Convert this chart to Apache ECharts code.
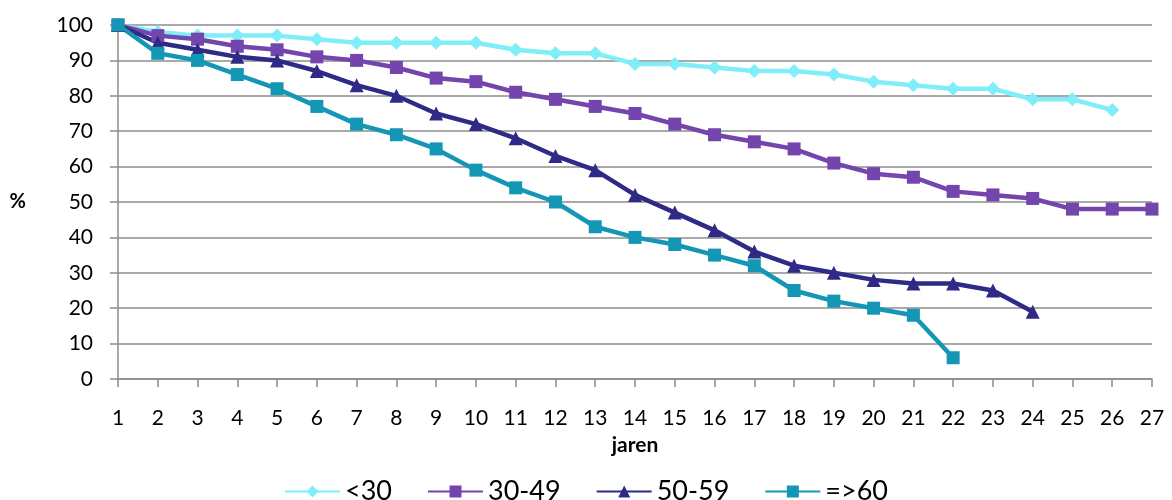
<!DOCTYPE html>
<html>
<head>
<meta charset="utf-8">
<script src="https://cdn.jsdelivr.net/npm/echarts@6/dist/echarts.min.js"></script>
<style>
  html, body { margin: 0; padding: 0; background: #fff; }
  #chart { width: 1172px; height: 500px; }
</style>
</head>
<body>
<div id="chart"></div>
<script>
// Years since start (x axis categories)
const years = ['1','2','3','4','5','6','7','8','9','10','11','12','13','14','15','16','17','18','19','20','21','22','23','24','25','26','27'];

// Percentage remaining per age group
const under30 = [100, 98, 97, 97, 97, 96, 95, 95, 95, 95, 93, 92, 92, 89, 89, 88, 87, 87, 86, 84, 83, 82, 82, 79, 79, 76];
const age30to49 = [100, 97, 96, 94, 93, 91, 90, 88, 85, 84, 81, 79, 77, 75, 72, 69, 67, 65, 61, 58, 57, 53, 52, 51, 48, 48, 48];
const age50to59 = [100, 95, 93, 91, 90, 87, 83, 80, 75, 72, 68, 63, 59, 52, 47, 42, 36, 32, 30, 28, 27, 27, 25, 19];
const age60plus = [100, 92, 90, 86, 82, 77, 72, 69, 65, 59, 54, 50, 43, 40, 38, 35, 32, 25, 22, 20, 18, 6];

const seriesNames = ['<30', '30-49', '50-59', '=>60'];

const FONT = 'Lato, "Open Sans", sans-serif';
const GRID = '#8c8c8c';

function lineSeries(name, data, color, symbol, size) {
  return {
    name: name,
    type: 'line',
    data: data,
    symbol: symbol,
    symbolSize: size,
    showSymbol: true,
    lineStyle: { width: 4.5, color: color },
    itemStyle: { color: color },
    emphasis: { disabled: true },
    animation: false
  };
}

const chart = echarts.init(document.getElementById('chart'), null, { renderer: 'canvas' });
chart.setOption({
  backgroundColor: '#ffffff',
  animation: false,
  textStyle: { fontFamily: FONT },
  grid: { left: 118, right: 20, top: 25, bottom: 121, containLabel: false },
  legend: {
    data: seriesNames,
    top: 473,
    left: 'center',
    itemWidth: 55,
    itemHeight: 15,
    itemGap: 35,
    textStyle: { fontSize: 27, color: '#000', fontFamily: FONT }
  },
  xAxis: {
    type: 'category',
    data: years,
    boundaryGap: false,
    name: 'jaren',
    nameLocation: 'middle',
    nameGap: 56,
    nameTextStyle: { fontSize: 21, fontWeight: 'bold', color: '#000', fontFamily: FONT },
    axisLine: { lineStyle: { color: GRID, width: 1.5 } },
    axisTick: { show: true, length: 8, interval: 0, lineStyle: { color: GRID, width: 1.5 } },
    axisLabel: { fontSize: 21, color: '#000', margin: 29, interval: 0, fontFamily: FONT },
    splitLine: { show: false }
  },
  yAxis: {
    type: 'value',
    min: 0,
    max: 100,
    interval: 10,
    name: '%',
    nameLocation: 'middle',
    nameRotate: 0,
    nameGap: 92,
    nameTextStyle: { fontSize: 20, fontWeight: 'bold', color: '#000', fontFamily: FONT },
    axisLine: { show: true, lineStyle: { color: GRID, width: 1.5 } },
    axisTick: { show: true, length: 8, lineStyle: { color: GRID, width: 1.5 } },
    axisLabel: { fontSize: 21, color: '#000', margin: 25, fontFamily: FONT },
    splitLine: { show: true, lineStyle: { color: GRID, width: 1.5 } }
  },
  series: [
    lineSeries(seriesNames[0], under30, '#7feef8', 'diamond', 14),
    lineSeries(seriesNames[1], age30to49, '#7445ad', 'rect', 13),
    lineSeries(seriesNames[2], age50to59, '#2e2a86', 'triangle', 14),
    lineSeries(seriesNames[3], age60plus, '#1497b4', 'rect', 13)
  ]
});
</script>
</body>
</html>
